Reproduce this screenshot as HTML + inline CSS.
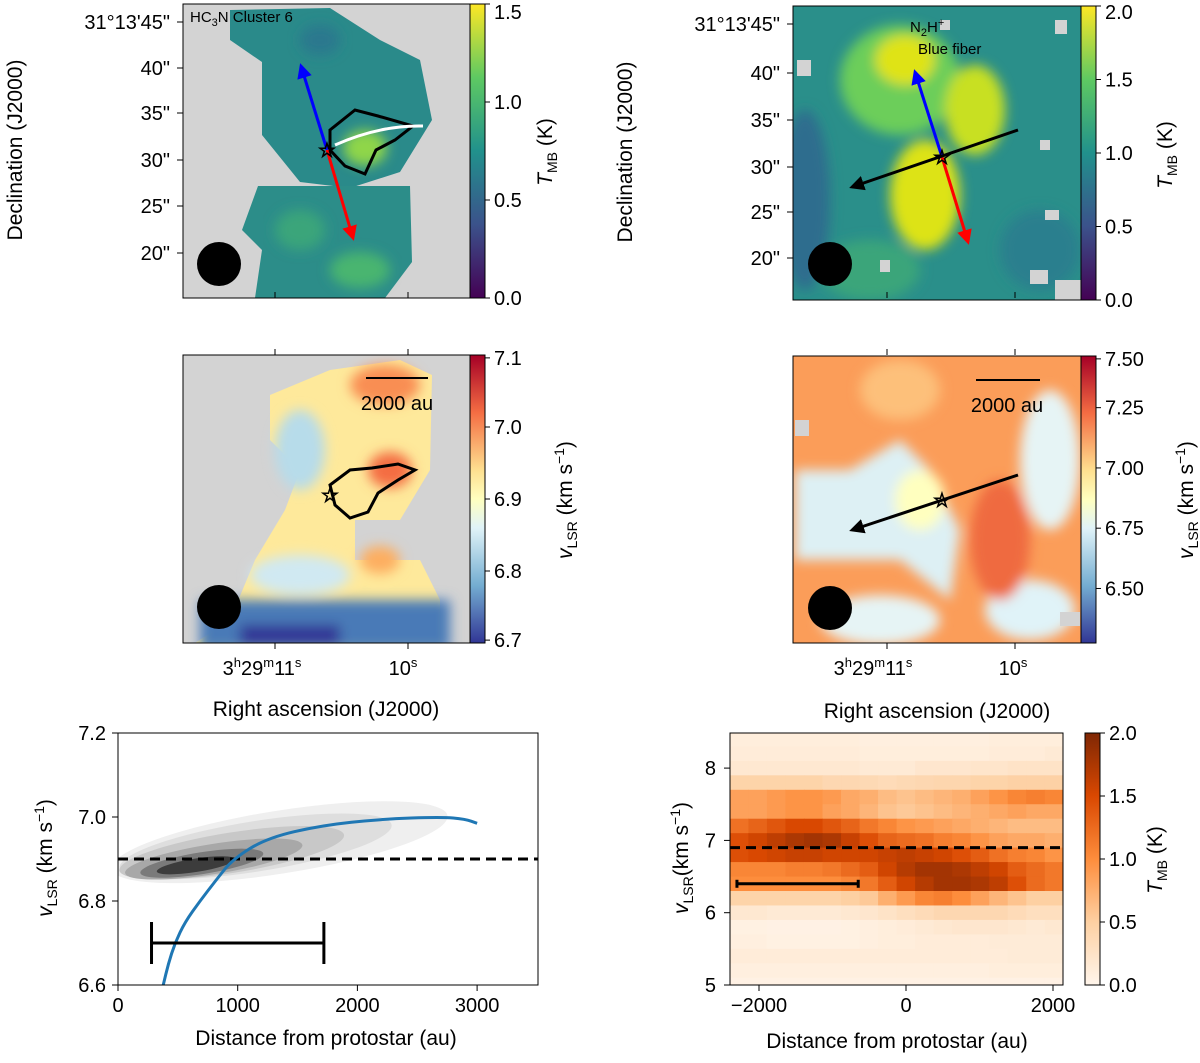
<!DOCTYPE html>
<html><head><meta charset="utf-8"><style>
html,body{margin:0;padding:0;background:#fff}
svg{display:block;font-family:"Liberation Sans","DejaVu Sans",sans-serif}
</style></head><body>
<svg id="fig" width="1200" height="1063" viewBox="0 0 1200 1063">
<defs>
<linearGradient id="viridis" x1="0" y1="1" x2="0" y2="0">
<stop offset="0" stop-color="#440154"/><stop offset="0.25" stop-color="#3b528b"/><stop offset="0.5" stop-color="#21918c"/><stop offset="0.75" stop-color="#5ec962"/><stop offset="1" stop-color="#fde725"/></linearGradient>
<linearGradient id="rdylbu" x1="0" y1="1" x2="0" y2="0">
<stop offset="0" stop-color="#313695"/><stop offset="0.2" stop-color="#74add1"/><stop offset="0.4" stop-color="#e0f3f8"/><stop offset="0.5" stop-color="#ffffbf"/><stop offset="0.6" stop-color="#fee090"/><stop offset="0.8" stop-color="#f46d43"/><stop offset="1" stop-color="#a50026"/></linearGradient>
<linearGradient id="oranges" x1="0" y1="1" x2="0" y2="0">
<stop offset="0" stop-color="#fff5eb"/><stop offset="0.25" stop-color="#fdd0a2"/><stop offset="0.5" stop-color="#fd8d3c"/><stop offset="0.75" stop-color="#d94801"/><stop offset="1" stop-color="#7f2704"/></linearGradient>
<filter id="blur4"><feGaussianBlur stdDeviation="6"/></filter>
<clipPath id="c1"><rect x="183" y="4" width="287" height="294"/></clipPath>
<clipPath id="c2"><rect x="793" y="6" width="288" height="294"/></clipPath>
<clipPath id="c3"><rect x="183" y="355" width="287" height="288"/></clipPath>
<clipPath id="c4"><rect x="793" y="356" width="288" height="287"/></clipPath>
<clipPath id="c5"><rect x="118" y="733" width="420" height="252"/></clipPath>
<marker id="ah" viewBox="0 0 10 10" refX="8" refY="5" markerWidth="5" markerHeight="5" orient="auto"><path d="M0,0L10,5L0,10z" fill="context-stroke"/></marker>
</defs>

<!-- TOP LEFT MAP -->
<g clip-path="url(#c1)">
<rect x="183" y="4" width="287" height="294" fill="#d3d3d3"/>
<polygon points="230,10 330,8 380,40 420,60 432,120 400,172 350,188 300,182 262,135 262,62 230,40" fill="#2a8a8a"/>
<polygon points="258,186 410,186 412,262 385,298 255,298 262,250 242,230" fill="#2c8d89"/>
<g filter="url(#blur4)"><ellipse cx="365" cy="148" rx="22" ry="18" fill="#8fd64a"/><ellipse cx="360" cy="270" rx="30" ry="18" fill="#48b570"/><ellipse cx="320" cy="40" rx="20" ry="15" fill="#2a788e"/><ellipse cx="300" cy="230" rx="25" ry="20" fill="#3aa57a"/></g>
<polygon points="330,130 355,110 378,116 413,126 395,140 376,150 365,174 345,166 330,150" fill="none" stroke="#000" stroke-width="3"/>
<path d="M335,145 Q380,125 423,126" fill="none" stroke="#fff" stroke-width="3"/>
<circle cx="219" cy="264" r="22" fill="#000"/>
</g>
<rect x="183" y="4" width="287" height="294" fill="none" stroke="#000"/>
<line x1="327" y1="150" x2="301" y2="66" stroke="#0000ff" stroke-width="3" marker-end="url(#ah)"/>
<line x1="327" y1="150" x2="353" y2="238" stroke="#ff0000" stroke-width="3" marker-end="url(#ah)"/>
<text x="327" y="157" font-size="20" text-anchor="middle" fill="none" stroke="#000">☆</text>
<text x="190" y="22" font-size="15">HC<tspan font-size="11" dy="4">3</tspan><tspan dy="-4">N Cluster 6</tspan></text>

<!-- TOP RIGHT MAP -->
<g clip-path="url(#c2)">
<rect x="793" y="6" width="288" height="294" fill="#2a8f8a"/>
<g filter="url(#blur4)">
<ellipse cx="805" cy="200" rx="25" ry="90" fill="#2f6d8e"/>
<ellipse cx="900" cy="80" rx="60" ry="55" fill="#6cce5a"/>
<ellipse cx="905" cy="60" rx="30" ry="25" fill="#dfe318"/>
<ellipse cx="975" cy="110" rx="30" ry="45" fill="#c8e020"/>
<ellipse cx="925" cy="195" rx="35" ry="55" fill="#dde318"/>
<ellipse cx="1040" cy="250" rx="40" ry="40" fill="#2c7f8e"/>
<ellipse cx="870" cy="270" rx="50" ry="30" fill="#3aa57a"/>
</g>
<rect x="797" y="60" width="14" height="16" fill="#d3d3d3"/><rect x="1055" y="20" width="12" height="14" fill="#d3d3d3"/>
<rect x="1045" y="210" width="14" height="10" fill="#d3d3d3"/><rect x="1030" y="270" width="18" height="14" fill="#d3d3d3"/>
<rect x="880" y="260" width="10" height="12" fill="#d3d3d3"/><rect x="1055" y="280" width="26" height="20" fill="#d3d3d3"/>
<rect x="1040" y="140" width="10" height="10" fill="#d3d3d3"/><rect x="940" y="20" width="10" height="10" fill="#d3d3d3"/>
<circle cx="830" cy="264" r="22" fill="#000"/>
</g>
<rect x="793" y="6" width="288" height="294" fill="none" stroke="#000"/>
<line x1="942" y1="157" x2="915" y2="72" stroke="#0000ff" stroke-width="3" marker-end="url(#ah)"/>
<line x1="942" y1="157" x2="968" y2="242" stroke="#ff0000" stroke-width="3" marker-end="url(#ah)"/>
<line x1="1018" y1="130" x2="852" y2="187" stroke="#000" stroke-width="3" marker-end="url(#ah)"/>
<text x="942" y="164" font-size="20" text-anchor="middle" fill="none" stroke="#000">☆</text>
<text x="910" y="32" font-size="15">N<tspan font-size="11" dy="4">2</tspan><tspan dy="-4">H</tspan><tspan font-size="11" dy="-6">+</tspan></text>
<text x="918" y="54" font-size="15">Blue fiber</text>

<!-- MIDDLE LEFT MAP -->
<g clip-path="url(#c3)">
<rect x="183" y="355" width="287" height="288" fill="#d3d3d3"/>
<polygon points="270,395 330,370 400,360 432,375 430,470 400,520 355,520 355,560 420,560 440,600 440,643 195,643 230,620 255,560 285,510 300,470 270,440" fill="#fee99b"/>
<g filter="url(#blur4)">
<ellipse cx="300" cy="450" rx="25" ry="40" fill="#b7dcea"/>
<ellipse cx="385" cy="385" rx="35" ry="20" fill="#f98e52"/>
<ellipse cx="390" cy="470" rx="22" ry="18" fill="#f46d43"/>
<ellipse cx="300" cy="575" rx="50" ry="20" fill="#d0e9f2"/>
<ellipse cx="380" cy="560" rx="20" ry="14" fill="#fdae61"/>
<rect x="200" y="600" width="250" height="50" fill="#4a7ab7"/>
<rect x="240" y="625" width="100" height="20" fill="#313695"/>
</g>
<polygon points="330,485 350,470 372,468 398,464 415,470 398,480 378,493 368,512 350,518 335,505" fill="none" stroke="#000" stroke-width="3"/>
<circle cx="219" cy="607" r="22" fill="#000"/>
</g>
<rect x="183" y="355" width="287" height="288" fill="none" stroke="#000"/>
<text x="330" y="502" font-size="20" text-anchor="middle" fill="none" stroke="#000">☆</text>
<line x1="366" y1="378" x2="428" y2="378" stroke="#000" stroke-width="2"/>
<text x="397" y="410" font-size="20" text-anchor="middle">2000 au</text>

<!-- MIDDLE RIGHT MAP -->
<g clip-path="url(#c4)">
<rect x="793" y="356" width="288" height="287" fill="#fb9d59"/>
<g filter="url(#blur4)">
<polygon points="795,470 850,470 900,440 930,470 960,530 950,600 900,560 850,560 795,560" fill="#ddf0f4"/>
<ellipse cx="1050" cy="460" rx="30" ry="70" fill="#e6f4f5"/>
<ellipse cx="1030" cy="610" rx="45" ry="30" fill="#e0f3f8"/>
<ellipse cx="880" cy="620" rx="60" ry="25" fill="#e6f4f5"/>
<ellipse cx="900" cy="390" rx="40" ry="30" fill="#fdc07a"/>
<ellipse cx="1000" cy="540" rx="30" ry="60" fill="#ef6a41"/>
<ellipse cx="920" cy="500" rx="25" ry="30" fill="#ffffbf"/>
</g>
<rect x="795" y="420" width="14" height="16" fill="#d3d3d3"/><rect x="1060" y="612" width="20" height="14" fill="#d3d3d3"/>
<circle cx="830" cy="608" r="22" fill="#000"/>
</g>
<rect x="793" y="356" width="288" height="287" fill="none" stroke="#000"/>
<line x1="1018" y1="475" x2="852" y2="530" stroke="#000" stroke-width="3" marker-end="url(#ah)"/>
<text x="942" y="507" font-size="20" text-anchor="middle" fill="none" stroke="#000">☆</text>
<line x1="976" y1="380" x2="1040" y2="380" stroke="#000" stroke-width="2"/>
<text x="1007" y="412" font-size="20" text-anchor="middle">2000 au</text>

<!-- Colorbars -->
<rect x="470" y="4" width="15" height="294" fill="url(#viridis)" stroke="#000"/>
<rect x="1081" y="6" width="15" height="294" fill="url(#viridis)" stroke="#000"/>
<rect x="470" y="355" width="15" height="288" fill="url(#rdylbu)" stroke="#000"/>
<rect x="1081" y="356" width="15" height="287" fill="url(#rdylbu)" stroke="#000"/>
<rect x="1085" y="733" width="15" height="252" fill="url(#oranges)" stroke="#000"/>

<g id="dyn"></g>
</svg>
<script>
// ---- Bottom-left data ----
const modelDist = [378, 420, 476, 560, 685, 820, 960, 1245, 1700, 2200, 2700, 2900, 3000];
const modelVel  = [6.6, 6.65, 6.7, 6.75, 6.8, 6.85, 6.9, 6.95, 6.98, 6.995, 7.0, 6.995, 6.985];
const kdeCx = [1350, 1150, 950, 800, 700, 650];
const kdeCy = [6.94, 6.93, 6.915, 6.9, 6.89, 6.885];
const kdeRx = [1420, 1150, 950, 750, 520, 330];
const kdeRy = [0.075, 0.06, 0.048, 0.036, 0.026, 0.016];
const kdeShade = ['#efefef','#dedede','#c8c8c8','#a8a8a8','#7a7a7a','#3c3c3c'];
const sysVelLeft = 6.9;
const errBarLeft = [280, 1720, 6.7];
const xTicksL = [0, 1000, 2000, 3000];
const yTicksL = [6.6, 6.8, 7.0, 7.2];

// ---- Bottom-right PV data ----
const pvVel = [8.4,8.2,8.0,7.8,7.6,7.4,7.2,7.0,6.8,6.6,6.4,6.2,6.0,5.8,5.6,5.4,5.2,5.0];
const pvDistStart = -2270, pvDistStep = 252;
const pvT = [
[0.10,0.10,0.10,0.10,0.10,0.10,0.10,0.08,0.08,0.08,0.08,0.08,0.08,0.08,0.10,0.10,0.10,0.10],
[0.12,0.12,0.12,0.12,0.12,0.12,0.12,0.10,0.10,0.10,0.10,0.10,0.10,0.10,0.12,0.12,0.12,0.15],
[0.18,0.18,0.18,0.18,0.18,0.18,0.18,0.15,0.15,0.15,0.20,0.20,0.20,0.22,0.22,0.25,0.25,0.25],
[0.45,0.45,0.45,0.45,0.45,0.40,0.40,0.38,0.35,0.38,0.40,0.42,0.42,0.45,0.45,0.48,0.48,0.48],
[0.85,0.85,0.90,0.95,0.95,0.90,0.80,0.75,0.65,0.60,0.65,0.70,0.75,0.85,0.95,1.05,1.10,1.05],
[0.85,0.85,0.90,0.95,0.95,0.85,0.80,0.70,0.60,0.55,0.60,0.65,0.70,0.75,0.80,0.85,0.80,0.80],
[1.20,1.30,1.40,1.50,1.50,1.40,1.30,1.15,1.05,0.95,0.90,0.85,0.80,0.75,0.70,0.65,0.65,0.65],
[1.45,1.55,1.65,1.75,1.80,1.75,1.60,1.45,1.30,1.25,1.20,1.10,1.05,0.95,0.85,0.80,0.80,0.75],
[1.45,1.50,1.55,1.60,1.60,1.55,1.55,1.55,1.60,1.65,1.60,1.55,1.45,1.35,1.20,1.10,1.05,0.95],
[1.05,1.05,1.05,1.10,1.10,1.15,1.25,1.35,1.55,1.70,1.80,1.80,1.75,1.65,1.55,1.35,1.25,1.15],
[1.00,1.00,1.00,1.00,1.00,1.00,1.05,1.15,1.35,1.55,1.70,1.80,1.80,1.75,1.65,1.45,1.25,1.15],
[0.45,0.45,0.45,0.45,0.45,0.45,0.50,0.55,0.75,0.90,1.05,1.10,1.00,0.85,0.70,0.60,0.50,0.50],
[0.18,0.18,0.15,0.15,0.15,0.15,0.18,0.20,0.25,0.30,0.35,0.40,0.40,0.40,0.40,0.35,0.30,0.30],
[0.06,0.06,0.05,0.05,0.05,0.05,0.06,0.08,0.10,0.12,0.15,0.18,0.20,0.20,0.20,0.18,0.15,0.18],
[0.08,0.08,0.06,0.06,0.06,0.06,0.06,0.08,0.10,0.10,0.12,0.12,0.12,0.12,0.14,0.14,0.14,0.14],
[0.12,0.12,0.12,0.12,0.12,0.12,0.12,0.12,0.12,0.12,0.12,0.12,0.12,0.12,0.12,0.14,0.14,0.14],
[0.08,0.08,0.08,0.08,0.08,0.08,0.08,0.08,0.08,0.08,0.08,0.08,0.08,0.08,0.10,0.10,0.10,0.10],
[0.05,0.05,0.05,0.05,0.05,0.05,0.05,0.05,0.05,0.05,0.05,0.05,0.05,0.05,0.05,0.05,0.05,0.05]];
const sysVelRight = 6.9;
const errBarRight = [-2300, -650, 6.4];
const xTicksR = [-2000, 0, 2000];
const yTicksR = [5, 6, 7, 8];

// ---- Map axis labels ----
const decLabelsL = ['31°13\'45"','40"','35"','30"','25"','20"'];
const decPosL = [22, 68, 113, 160, 206, 253];
const decPosR = [24, 73, 120, 167, 212, 258];
const cbTmbL = ['0.0','0.5','1.0','1.5'], cbTmbR = ['0.0','0.5','1.0','1.5','2.0'];
const cbVL = ['6.7','6.8','6.9','7.0','7.1'], cbVR = ['6.50','6.75','7.00','7.25','7.50'];
const cbPv = ['0.0','0.5','1.0','1.5','2.0'];

const NS = 'http://www.w3.org/2000/svg';
const root = document.getElementById('dyn');
function el(tag, attrs, parent) {
  const e = document.createElementNS(NS, tag);
  for (const k in attrs) e.setAttribute(k, attrs[k]);
  (parent || root).appendChild(e);
  return e;
}
function txt(x, y, s, size, anchor, parent, rot) {
  const t = el('text', {x: x, y: y, 'font-size': size, 'text-anchor': anchor || 'middle'}, parent);
  if (rot) t.setAttribute('transform', 'rotate(' + rot + ' ' + x + ' ' + y + ')');
  t.textContent = s;
  return t;
}
function oranges(v) {
  const st = [[255,245,235],[253,208,162],[253,141,60],[217,72,1],[127,39,4]];
  let f = Math.max(0, Math.min(1, v / 2)) * 4; const i = Math.min(3, Math.floor(f)); f -= i;
  const c = st[i].map((a, k) => Math.round(a + (st[i+1][k] - a) * f));
  return 'rgb(' + c.join(',') + ')';
}

const axg = el('g', {});


decLabelsL.forEach((s, i) => {
  txt(170, decPosL[i] + 7, s, 20, 'end', axg);
  el('line', {x1: 177, y1: decPosL[i], x2: 183, y2: decPosL[i], stroke: '#000'}, axg);
  txt(780, decPosR[i] + 7, s, 20, 'end', axg);
  el('line', {x1: 787, y1: decPosR[i], x2: 793, y2: decPosR[i], stroke: '#000'}, axg);
});
txt(22, 150, 'Declination (J2000)', 21, 'middle', axg, -90);
txt(632, 152, 'Declination (J2000)', 21, 'middle', axg, -90);
[[275, 408], [887, 1015]].forEach(([a, b]) => {
  [a, b].forEach((x) => {
    el('line', {x1: x, y1: 643, x2: x, y2: 649, stroke: '#000'}, axg);
    el('line', {x1: x, y1: 349, x2: x, y2: 355, stroke: '#000'}, axg);
    el('line', {x1: x, y1: 292, x2: x, y2: 298, stroke: '#000'}, axg);
  });
});
function raText(x, parent) {
  const t = el('text', {x: x, y: 675, 'font-size': 20, 'text-anchor': 'middle'}, parent);
  t.innerHTML = '3<tspan font-size="13" dy="-8">h</tspan><tspan dy="8">29</tspan><tspan font-size="13" dy="-8">m</tspan><tspan dy="8">11</tspan><tspan font-size="13" dy="-8">s</tspan>';
}
raText(262, axg); raText(873, axg);
const s1 = el('text', {x: 403, y: 675, 'font-size': 20, 'text-anchor': 'middle'}, axg); s1.innerHTML = '10<tspan font-size="13" dy="-8">s</tspan>';
const s2 = el('text', {x: 1013, y: 675, 'font-size': 20, 'text-anchor': 'middle'}, axg); s2.innerHTML = '10<tspan font-size="13" dy="-8">s</tspan>';
txt(326, 716, 'Right ascension (J2000)', 21, 'middle', axg);
txt(937, 718, 'Right ascension (J2000)', 21, 'middle', axg);

function cbTicks(x, yTop, yBot, labels, fracs, name) {
  const g = el('g', {});
  
  
  labels.forEach((s, i) => {
    const y = yBot - (yBot - yTop) * fracs[i];
    el('line', {x1: x, y1: y, x2: x + 5, y2: y, stroke: '#000'}, g);
    txt(x + 9, Math.max(y + 7, 19), s, 20, 'start', g);
  });
  return g;
}
cbTicks(485, 4, 298, cbTmbL, [0, 1/3, 2/3, 1], 'colorbar-ticks-tl');
cbTicks(1096, 6, 300, cbTmbR, [0, .25, .5, .75, 1], 'colorbar-ticks-tr');
cbTicks(485, 355, 643, cbVL, [0.01, 0.25, 0.5, 0.75, 0.99], 'colorbar-ticks-ml');
cbTicks(1096, 356, 643, cbVR, [0.19, 0.4, 0.61, 0.82, 0.99], 'colorbar-ticks-mr');
cbTicks(1100, 733, 985, cbPv, [0, .25, .5, .75, 1], 'colorbar-ticks-pv');
function rotLabel(x, y, html) {
  const t = el('text', {x: x, y: y, 'font-size': 21, 'text-anchor': 'middle', transform: 'rotate(-90 ' + x + ' ' + y + ')'});
  t.innerHTML = html;
}
const tmb = '<tspan font-style="italic">T</tspan><tspan font-size="14" dy="5">MB</tspan><tspan dy="-5"> (K)</tspan>';
const vlsr = '<tspan font-style="italic">v</tspan><tspan font-size="14" dy="5">LSR</tspan><tspan dy="-5"> (km s</tspan><tspan font-size="14" dy="-8">−1</tspan><tspan dy="8">)</tspan>';
rotLabel(552, 152, tmb); rotLabel(1172, 155, tmb);
rotLabel(572, 500, vlsr); rotLabel(1193, 500, vlsr);
rotLabel(1162, 860, tmb);

// ---- Bottom-left chart ----
const bl = el('g', {});


const xL = d => 118 + d * 0.1197;
const yL = v => 985 - (v - 6.6) * 420;
const blc = el('g', {'clip-path': 'url(#c5)'}, bl);
kdeCx.forEach((c, i) => {
  const e = el('ellipse', {cx: xL(c), cy: yL(kdeCy[i]), rx: kdeRx[i] * 0.1197, ry: kdeRy[i] * 420, fill: kdeShade[i],
    transform: 'rotate(-9 ' + xL(c) + ' ' + yL(kdeCy[i]) + ')'}, blc);
  
  
});
const sl = el('line', {x1: 118, y1: yL(sysVelLeft), x2: 538, y2: yL(sysVelLeft), stroke: '#000', 'stroke-width': 3, 'stroke-dasharray': '10,6'}, blc);


let dPath = 'M' + xL(modelDist[0]) + ',' + yL(modelVel[0]);
for (let i = 1; i < modelDist.length; i++) {
  const x0 = xL(modelDist[i-1]), y0 = yL(modelVel[i-1]), x1 = xL(modelDist[i]), y1 = yL(modelVel[i]);
  const xm = (x0 + x1) / 2, ym = (y0 + y1) / 2;
  dPath += ' Q' + x0 + ',' + y0 + ' ' + xm + ',' + ym;
}
dPath += ' L' + xL(modelDist[modelDist.length-1]) + ',' + yL(modelVel[modelVel.length-1]);
const mp = el('path', {d: dPath, fill: 'none', stroke: '#1f77b4', 'stroke-width': 3}, blc);


const eb = el('g', {stroke: '#000', 'stroke-width': 3}, bl);


el('line', {x1: xL(errBarLeft[0]), y1: yL(errBarLeft[2]), x2: xL(errBarLeft[1]), y2: yL(errBarLeft[2])}, eb);
el('line', {x1: xL(errBarLeft[0]), y1: yL(errBarLeft[2]) - 21, x2: xL(errBarLeft[0]), y2: yL(errBarLeft[2]) + 21}, eb);
el('line', {x1: xL(errBarLeft[1]), y1: yL(errBarLeft[2]) - 21, x2: xL(errBarLeft[1]), y2: yL(errBarLeft[2]) + 21}, eb);
el('rect', {x: 118, y: 733, width: 420, height: 252, fill: 'none', stroke: '#000'}, bl);
xTicksL.forEach(t => { el('line', {x1: xL(t), y1: 985, x2: xL(t), y2: 991, stroke: '#000'}, bl); txt(xL(t), 1012, String(t), 20, 'middle', bl); });
yTicksL.forEach(t => { el('line', {x1: 112, y1: yL(t), x2: 118, y2: yL(t), stroke: '#000'}, bl); txt(106, yL(t) + 7, t.toFixed(1), 20, 'end', bl); });
txt(326, 1045, 'Distance from protostar (au)', 21, 'middle', bl);
const ylab = el('text', {x: 52, y: 858, 'font-size': 21, 'text-anchor': 'middle', transform: 'rotate(-90 52 858)'}, bl);
ylab.innerHTML = vlsr;

// ---- Bottom-right heatmap ----
const br = el('g', {});


const xR = d => 906 + d * 0.0735;
const yR = v => 985 - (v - 5) * 72.3;
const cellW = pvDistStep * 0.0735, cellH = 0.2 * 72.3;
const hg = el('g', {}, br);
pvVel.forEach((v, r) => {
  pvT[r].forEach((val, c) => {
    const d = pvDistStart + c * pvDistStep;
    const x0 = Math.max(730, xR(d) - cellW / 2), x1 = Math.min(1063, xR(d) + cellW / 2);
    const y0 = Math.max(733, yR(v) - cellH / 2), y1 = Math.min(985, yR(v) + cellH / 2);
    if (x1 <= x0 || y1 <= y0) return;
    const rc = el('rect', {x: x0, y: y0, width: Math.min(1063 - x0, x1 - x0 + 0.5), height: Math.min(985 - y0, y1 - y0 + 0.5), fill: oranges(val)}, hg);
    
    
  });
});
const sr = el('line', {x1: 730, y1: yR(sysVelRight), x2: 1063, y2: yR(sysVelRight), stroke: '#000', 'stroke-width': 3, 'stroke-dasharray': '10,6'}, br);


const eb2 = el('g', {stroke: '#000', 'stroke-width': 3}, br);


el('line', {x1: xR(errBarRight[0]), y1: yR(errBarRight[2]), x2: xR(errBarRight[1]), y2: yR(errBarRight[2])}, eb2);
el('line', {x1: xR(errBarRight[0]), y1: yR(errBarRight[2]) - 4, x2: xR(errBarRight[0]), y2: yR(errBarRight[2]) + 4}, eb2);
el('line', {x1: xR(errBarRight[1]), y1: yR(errBarRight[2]) - 4, x2: xR(errBarRight[1]), y2: yR(errBarRight[2]) + 4}, eb2);
el('rect', {x: 730, y: 733, width: 333, height: 252, fill: 'none', stroke: '#000'}, br);
xTicksR.forEach(t => { el('line', {x1: xR(t), y1: 985, x2: xR(t), y2: 991, stroke: '#000'}, br); txt(xR(t), 1012, t < 0 ? '−' + Math.abs(t) : String(t), 20, 'middle', br); });
yTicksR.forEach(t => { el('line', {x1: 724, y1: yR(t), x2: 730, y2: yR(t), stroke: '#000'}, br); txt(716, yR(t) + 7, String(t), 20, 'end', br); });
txt(897, 1048, 'Distance from protostar (au)', 21, 'middle', br);
const ylab2 = el('text', {x: 688, y: 858, 'font-size': 21, 'text-anchor': 'middle', transform: 'rotate(-90 688 858)'}, br);
ylab2.innerHTML = '<tspan font-style="italic">v</tspan><tspan font-size="14" dy="5">LSR</tspan><tspan dy="-5">(km s</tspan><tspan font-size="14" dy="-8">−1</tspan><tspan dy="8">)</tspan>';
</script>
</body></html>
